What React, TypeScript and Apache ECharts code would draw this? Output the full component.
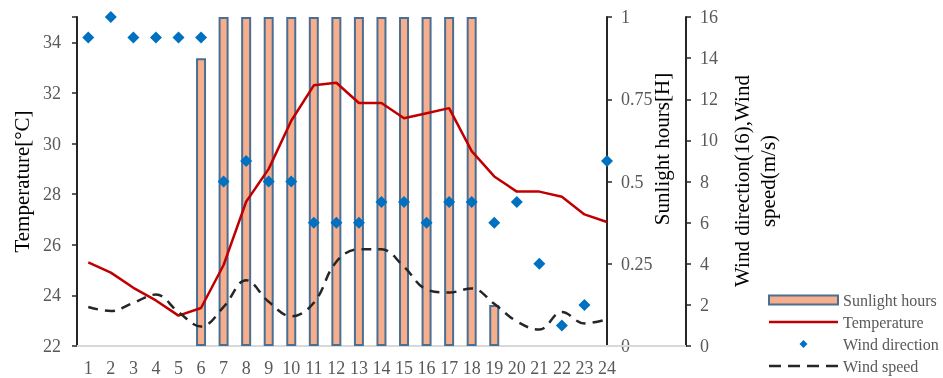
import React, { useEffect, useRef } from "react";
import * as echarts from "echarts";

const hours = [1, 2, 3, 4, 5, 6, 7, 8, 9, 10, 11, 12, 13, 14, 15, 16, 17, 18, 19, 20, 21, 22, 23, 24];
const sunlight = [0, 0, 0, 0, 0, 0.875, 1, 1, 1, 1, 1, 1, 1, 1, 1, 1, 1, 1, 0.125, 0, 0, 0, 0, 0];
const temperature = [25.3, 24.9, 24.3, 23.8, 23.2, 23.5, 25.2, 27.7, 29.0, 30.9, 32.3, 32.4, 31.6, 31.6, 31.0, 31.2, 31.4, 29.7, 28.7, 28.1, 28.1, 27.9, 27.2, 26.9];
const windDirection = [15, 16, 15, 15, 15, 15, 8, 9, 8, 8, 6, 6, 6, 7, 7, 6, 7, 7, 6, 7, 4, 1, 2, 9];
const windSpeed = [1.9, 1.7, 2.1, 2.5, 1.65, 0.95, 1.9, 3.2, 2.15, 1.45, 2.1, 4.1, 4.7, 4.7, 3.85, 2.75, 2.6, 2.8, 2.05, 1.2, 0.8, 1.65, 1.1, 1.3];

const FONT = '"Liberation Serif", "Times New Roman", serif';
const AXIS_DARK = "#262626";
const LABEL_GRAY = "#595959";

export default function App() {
  const ref = useRef<HTMLDivElement>(null);

  useEffect(() => {
    if (!ref.current) return;
    const chart = echarts.init(ref.current, undefined, { renderer: "svg" });
    const pair = (arr: number[]) => hours.map((h, i) => [h, arr[i]]);
    const barPair = (arr: number[]) => hours.map((h, i) => [h, arr[i] === 0 ? null : arr[i]]);

    const option: any = {
      animation: false,
      textStyle: { fontFamily: FONT },
      grid: { left: 77, right: 336, top: 17, bottom: 32, containLabel: false },
      xAxis: {
        type: "value",
        min: 0.5,
        max: 24,
        interval: 0.5,
        axisLine: { show: true, lineStyle: { color: "#d9d9d9", width: 2 } },
        axisTick: { show: false },
        splitLine: { show: false },
        axisLabel: {
          fontSize: 18,
          color: LABEL_GRAY,
          fontFamily: FONT,
          margin: 13,
          formatter: (v: number) => (Number.isInteger(v) && v >= 1 ? String(v) : ""),
        },
      },
      yAxis: [
        {
          type: "value",
          position: "left",
          min: 22,
          max: 35,
          interval: 2,
          name: "Temperature[°C]",
          nameLocation: "middle",
          nameRotate: 90,
          nameGap: 43,
          nameTextStyle: { fontSize: 21, color: "#000", fontFamily: FONT },
          axisLine: { show: true, lineStyle: { color: AXIS_DARK, width: 2 } },
          axisTick: { show: true, length: 5, lineStyle: { color: AXIS_DARK, width: 1.5 } },
          splitLine: { show: false },
          axisLabel: {
            fontSize: 18,
            color: LABEL_GRAY,
            fontFamily: FONT,
            margin: 16,
            formatter: (v: number) => (v === 35 ? "" : String(v)),
          },
        },
        {
          type: "value",
          position: "right",
          min: 0,
          max: 1,
          interval: 0.25,
          axisLine: { show: true, lineStyle: { color: AXIS_DARK, width: 2 } },
          axisTick: { show: true, length: 5, lineStyle: { color: AXIS_DARK, width: 1.5 } },
          splitLine: { show: false },
          axisLabel: { fontSize: 18, color: LABEL_GRAY, fontFamily: FONT, margin: 14 },
        },
        {
          type: "value",
          position: "right",
          offset: 79,
          min: 0,
          max: 16,
          interval: 2,
          axisLine: { show: true, lineStyle: { color: AXIS_DARK, width: 2 } },
          axisTick: { show: true, length: 5, lineStyle: { color: AXIS_DARK, width: 1.5 } },
          splitLine: { show: false },
          axisLabel: { fontSize: 18, color: LABEL_GRAY, fontFamily: FONT, margin: 14 },
        },
      ],
      legend: {
        orient: "vertical",
        left: 768,
        top: 292,
        padding: 0,
        itemGap: 6,
        itemWidth: 69,
        itemHeight: 9,
        selectedMode: false,
        textStyle: { fontSize: 16, color: LABEL_GRAY, fontFamily: FONT, lineHeight: 16 },
        data: [
          { name: "Sunlight hours", icon: "rect" },
          {
            name: "Temperature",
            icon: "path://M0,0L0.01,0Z M69,9L69.01,9Z M0,3.25L69,3.25L69,5.75L0,5.75Z",
            itemStyle: { color: "#C00000", borderWidth: 0 },
          },
          {
            name: "Wind direction",
            icon: "path://M0,0L0.01,0Z M69,9L69.01,9Z M30.5,4.5L34.5,0.5L38.5,4.5L34.5,8.5Z",
            itemStyle: { color: "#0070C0", borderWidth: 0 },
          },
          {
            name: "Wind speed",
            icon:
              "path://M0,0L0.01,0Z M69,9L69.01,9Z M0,3.25L12,3.25L12,5.75L0,5.75Z M19,3.25L31,3.25L31,5.75L19,5.75Z M38,3.25L50,3.25L50,5.75L38,5.75Z M57,3.25L69,3.25L69,5.75L57,5.75Z",
            itemStyle: { color: AXIS_DARK, borderWidth: 0 },
          },
        ],
      },
      graphic: [
        {
          type: "line",
          shape: { x1: 607, y1: 346, x2: 686, y2: 346 },
          style: { stroke: "#d9d9d9", lineWidth: 2 },
          z: 1,
        },
        {
          type: "text",
          x: 662,
          y: 149,
          rotation: Math.PI / 2,
          style: {
            text: "Sunlight hours[H]",
            fontSize: 21,
            fontFamily: FONT,
            fill: "#000",
            align: "center",
            verticalAlign: "middle",
          },
        },
        {
          type: "text",
          x: 755,
          y: 181,
          rotation: Math.PI / 2,
          style: {
            text: "Wind direction(16),Wind\nspeed(m/s)",
            fontSize: 21,
            lineHeight: 26,
            fontFamily: FONT,
            fill: "#000",
            align: "center",
            verticalAlign: "middle",
          },
        },
      ],
      series: [
        {
          name: "Sunlight hours",
          type: "bar",
          yAxisIndex: 1,
          barWidth: 10,
          data: barPair(sunlight),
          itemStyle: { color: "#F7AE8C", borderColor: "#4A6F92", borderWidth: 2 },
          z: 2,
        },
        {
          name: "Temperature",
          type: "line",
          yAxisIndex: 0,
          symbol: "none",
          data: pair(temperature),
          lineStyle: { color: "#C00000", width: 2.5 },
          itemStyle: { color: "#C00000" },
          z: 4,
        },
        {
          name: "Wind direction",
          type: "scatter",
          yAxisIndex: 2,
          symbol: "diamond",
          symbolSize: [12, 12],
          data: pair(windDirection),
          itemStyle: { color: "#0070C0", opacity: 1 },
          z: 5,
        },
        {
          name: "Wind speed",
          type: "line",
          yAxisIndex: 2,
          symbol: "none",
          smooth: 0.4,
          data: pair(windSpeed),
          lineStyle: { color: AXIS_DARK, width: 2.5, type: [10, 7] },
          itemStyle: { color: AXIS_DARK },
          z: 4,
        },
      ],
    };

    chart.setOption(option);
    return () => chart.dispose();
  }, []);

  return (
    <div
      ref={ref}
      style={{ position: "fixed", left: 0, top: 0, width: 943, height: 378 }}
    />
  );
}
